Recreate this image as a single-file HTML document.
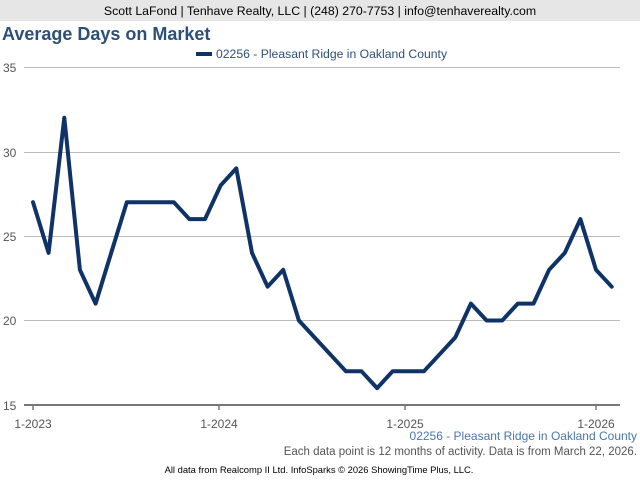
<!DOCTYPE html>
<html><head><meta charset="utf-8"><style>
body{margin:0;width:640px;height:480px;overflow:hidden;background:#fff;font-family:"Liberation Sans",Arial,sans-serif}
</style></head><body>
<svg width="640" height="480" xmlns="http://www.w3.org/2000/svg" font-family="Liberation Sans, Arial, sans-serif">
<rect x="0" y="0" width="640" height="21" fill="#e6e6e6"/>
<text x="320" y="15" font-size="12.3" text-anchor="middle" fill="#000">Scott LaFond | Tenhave Realty, LLC | (248) 270-7753 | info@tenhaverealty.com</text>
<text x="2" y="40" font-size="18" font-weight="bold" fill="#2d5079">Average Days on Market</text>
<rect x="196" y="52" width="16" height="4" fill="#0f3366"/>
<text x="216" y="58" font-size="12.2" fill="#2d5079">02256 - Pleasant Ridge in Oakland County</text>
<g stroke="#bbb" stroke-width="1">
<line x1="24" y1="67.5" x2="620" y2="67.5"/>
<line x1="24" y1="152.5" x2="620" y2="152.5"/>
<line x1="24" y1="236.5" x2="620" y2="236.5"/>
<line x1="24" y1="320.5" x2="620" y2="320.5"/>
</g>
<line x1="24" y1="405" x2="620" y2="405" stroke="#777" stroke-width="2"/>
<g stroke="#777" stroke-width="1.5">
<line x1="33" y1="405" x2="33" y2="410"/><line x1="219" y1="405" x2="219" y2="410"/>
<line x1="405" y1="405" x2="405" y2="410"/><line x1="596" y1="405" x2="596" y2="410"/>
</g>
<g font-size="12" fill="#555">
<text x="3" y="72">35</text><text x="3" y="157">30</text><text x="3" y="241">25</text><text x="3" y="325">20</text><text x="3" y="410">15</text>
</g>
<g font-size="12" fill="#555" text-anchor="middle">
<text x="33" y="428">1-2023</text><text x="219" y="428">1-2024</text><text x="405" y="428">1-2025</text><text x="596" y="428">1-2026</text>
</g>
<polyline fill="none" stroke="#0f3366" stroke-width="4" stroke-linejoin="round" stroke-linecap="round" points="
33,202.2 48.6,252.9 64.3,117.7 79.9,269.8 95.6,303.6 111.2,252.9 126.8,202.2 142.5,202.2 158.1,202.2 173.8,202.2 189.4,219.1 205,219.1 220.7,185.3 236.3,168.4 252,252.9 267.6,286.7 283.2,269.8 298.9,320.5 314.5,337.4 330.2,354.3 345.8,371.2 361.4,371.2 377.1,388.1 392.7,371.2 408.4,371.2 424,371.2 439.6,354.3 455.3,337.4 470.9,303.6 486.6,320.5 502.2,320.5 517.8,303.6 533.5,303.6 549.1,269.8 564.8,252.9 580.4,219.1 596,269.8 611.7,286.7"/>
<text x="637" y="440" font-size="12" fill="#4a77a8" text-anchor="end">02256 - Pleasant Ridge in Oakland County</text>
<text x="637" y="455" font-size="11.5" fill="#555" text-anchor="end">Each data point is 12 months of activity. Data is from March 22, 2026.</text>
<text x="319" y="473" font-size="9.4" fill="#000" text-anchor="middle">All data from Realcomp II Ltd. InfoSparks © 2026 ShowingTime Plus, LLC.</text>
</svg>
</body></html>
